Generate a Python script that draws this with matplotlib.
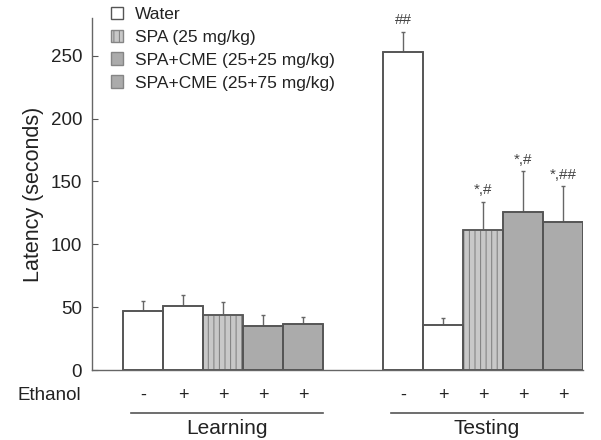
import matplotlib.pyplot as plt
import numpy as np
from matplotlib.patches import Patch

plt.rcParams['font.family'] = ['Liberation Sans', 'DejaVu Sans']
plt.rcParams['hatch.linewidth'] = 0.8

# data
groups = ["Learning", "Testing"]
legend_labels = ["Water", "SPA (25 mg/kg)", "SPA+CME (25+25 mg/kg)", "SPA+CME (25+75 mg/kg)"]
ethanol = ["-", "+", "+", "+", "+"]
learning = [47, 51, 44, 35, 37]
learning_err = [8, 9, 10, 9, 5]
testing = [253, 36, 111, 126, 118]
testing_err = [16, 5, 23, 32, 28]
testing_marks = ["##", "", "*,#", "*,#", "*,##"]

faces = ["white", "white", "#c8c8c8", "#ababab", "#ababab"]
hatches = [None, None, "|||", None, None]
edge = "#555555"

fig = plt.figure(figsize=(6.01, 4.40), dpi=100)
ax = fig.add_axes([0.153, 0.159, 0.817, 0.800])

x_learn = np.arange(5)
x_test = np.arange(5) + 6.5

for xs, vals, errs in [(x_learn, learning, learning_err), (x_test, testing, testing_err)]:
    for i in range(5):
        ax.bar(xs[i], vals[i], width=1.0, color=faces[i], hatch=hatches[i],
               edgecolor="#858585" if hatches[i] else edge, linewidth=1.2, zorder=2)
        ax.bar(xs[i], vals[i], width=1.0, fill=False, edgecolor=edge, linewidth=1.2, zorder=3)
        ax.errorbar(xs[i], vals[i], yerr=[[0], [errs[i]]], fmt="none", ecolor="#666666",
                    elinewidth=1.0, capsize=1.5, capthick=1.0, zorder=1)

for i, m in enumerate(testing_marks):
    if m:
        ax.text(x_test[i], testing[i] + testing_err[i] + 3.5, m, ha="center", va="bottom",
                fontsize=11, color="#444444")

ax.set_xlim(-1.28, 11.0)
ax.set_ylim(0, 280)
ax.set_yticks([0, 50, 100, 150, 200, 250])
ax.set_xticks([])
ax.tick_params(axis="y", direction="in", length=4, labelsize=13.5, colors="#555555",
               labelcolor="#222222", pad=7)
ax.spines["top"].set_visible(False)
ax.spines["right"].set_visible(False)
for s in ["left", "bottom"]:
    ax.spines[s].set_color("#666666")
    ax.spines[s].set_linewidth(1.0)
ax.set_ylabel("Latency (seconds)", fontsize=15.5, color="#222222", labelpad=5)

# ethanol row and group labels
tr = ax.get_xaxis_transform()
for xs in [x_learn, x_test]:
    for i in range(5):
        ax.text(xs[i], -0.071, ethanol[i], transform=tr, ha="center", va="center",
                fontsize=13, color="#222222")
ax.text(-1.55, -0.071, "Ethanol", transform=tr, ha="right", va="center",
        fontsize=13.5, color="#222222")
for xs, name in zip([x_learn, x_test], groups):
    ax.plot([xs[0] - 0.3, xs[-1] + 0.5], [-0.122, -0.122], transform=tr, color="#555555",
            linewidth=1.2, clip_on=False)
    ax.text((xs[0] + xs[-1]) / 2 + 0.1, -0.165, name, transform=tr, ha="center",
            va="center", fontsize=15, color="#222222")

# legend
handles = [Patch(facecolor="white", edgecolor=edge),
           Patch(facecolor="#c8c8c8", edgecolor="#858585", hatch="|||"),
           Patch(facecolor="#ababab", edgecolor="#858585"),
           Patch(facecolor="#ababab", edgecolor="#858585")]
ax.legend(handles, legend_labels, loc="upper left", bbox_to_anchor=(0.006, 1.077),
          frameon=False, fontsize=12.5, handlelength=0.7, handleheight=0.7,
          handletextpad=0.7, labelspacing=0.45, labelcolor="#222222")

fig.savefig("out.png", dpi=100)
